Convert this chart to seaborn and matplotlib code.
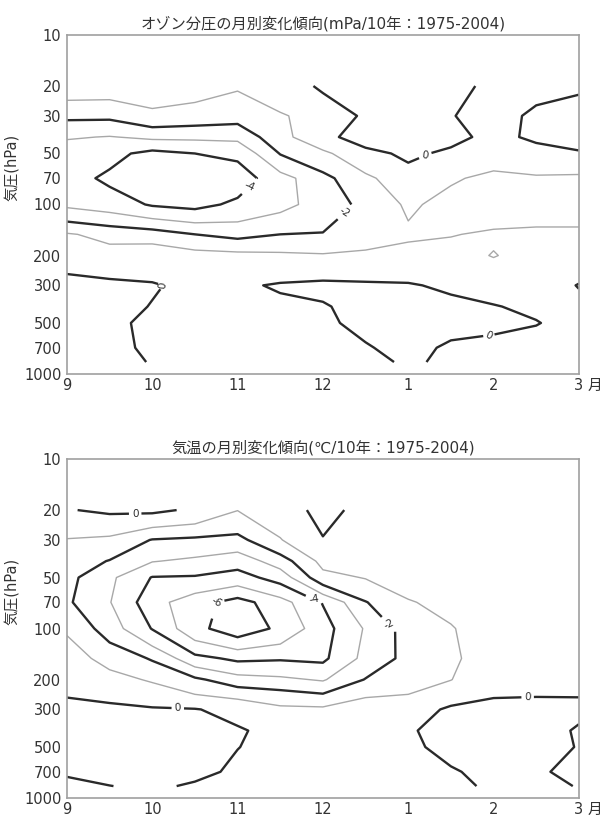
import numpy as np
import matplotlib
matplotlib.use("Agg")
import matplotlib.pyplot as plt
from matplotlib.ticker import FixedLocator, NullLocator
import seaborn as sns

# grid: half-month steps from September (9) to March (15), pressure levels in hPa
months = [9, 9.5, 10, 10.5, 11, 11.5, 12, 12.5, 13, 13.5, 14, 14.5, 15]
month_ticks = [9, 10, 11, 12, 13, 14, 15]
month_labels = ["9", "10", "11", "12", "1", "2", "3"]
pressure_levels = [20, 30, 40, 50, 70, 100, 150, 200, 250, 300, 400, 500, 700, 850]
pressure_ticks = [10, 20, 30, 50, 70, 100, 200, 300, 500, 700, 1000]

# ozone partial-pressure trend, mPa per decade (rows follow pressure_levels)
ozone_trend = [
    [-0.4, -0.45, -0.5, -0.6, -0.9, -0.7, 0.2, 0.5, 0.6, 0.4, -0.3, -0.3, -0.1],
    [-1.8, -1.8, -1.2, -1.4, -1.6, -1.05, -0.8, 0.2, 0.5, 0.05, -0.4, 0.2, 0.3],
    [-2.9, -3.05, -2.8, -2.8, -2.75, -1.3, -0.3, 0.5, 0.4, 0.3, -0.3, 0.2, 0.2],
    [-3.6, -3.7, -4.3, -4.0, -3.8, -1.95, -1.2, -0.3, 0.2, -0.2, -0.6, -0.4, -0.05],
    [-3.6, -4.2, -4.8, -4.8, -4.5, -3.4, -2.3, -1.2, -0.4, -0.9, -1.2, -1.1, -1.2],
    [-3.2, -3.5, -4.1, -4.3, -3.8, -3.3, -2.6, -1.7, -0.85, -1.3, -1.6, -1.5, -1.5],
    [-0.9, -1.3, -1.5, -2.0, -2.3, -2.0, -1.95, -1.5, -1.15, -1.05, -0.85, -0.8, -0.8],
    [-0.5, -0.6, -0.3, -0.6, -0.7, -0.8, -0.9, -0.8, -0.7, -0.6, -1.05, -0.6, -0.5],
    [-0.05, -0.2, -0.3, -0.3, -0.4, -0.4, -0.5, -0.5, -0.4, -0.4, -0.6, -0.5, -0.3],
    [0.3, 0.2, 0.1, -0.3, -0.15, 0.1, 0.3, 0.2, 0.1, -0.2, -0.4, -0.6, 0.05],
    [0.5, 0.4, -0.05, -0.4, -0.4, -0.2, -0.1, 0.4, 0.5, 0.3, 0.05, -0.2, -0.3],
    [0.5, 0.4, -0.4, -0.5, -0.5, -0.4, -0.2, 0.3, 0.6, 0.4, 0.3, 0.05, -0.4],
    [0.4, 0.3, -0.2, -0.4, -0.6, -0.5, -0.4, -0.1, 0.4, -0.2, -0.4, -0.5, -0.5],
    [0.3, 0.3, -0.05, -0.3, -0.5, -0.5, -0.5, -0.3, 0.15, -0.2, -0.4, -0.4, -0.5],
]

# temperature trend, degC per decade (rows follow pressure_levels)
temp_trend = [
    [-0.05, 0.15, 0.2, -0.15, -0.98, -0.5, 0.3, -0.3, -0.3, -0.3, -0.3, -0.3, -0.3],
    [-1.05, -1.2, -2.05, -2.2, -2.3, -1.05, -0.05, -0.5, -0.4, -0.3, -0.3, -0.3, -0.3],
    [-1.45, -2.05, -2.95, -3.2, -3.6, -2.5, -0.7, -0.75, -0.55, -0.4, -0.35, -0.35, -0.35],
    [-1.7, -2.8, -4.05, -4.1, -4.4, -3.6, -1.3, -0.95, -0.7, -0.5, -0.4, -0.4, -0.4],
    [-1.85, -2.95, -4.6, -5.6, -6.4, -5.4, -3.95, -2.05, -1.05, -0.8, -0.5, -0.5, -0.5],
    [-1.1, -2.5, -4.05, -5.7, -6.6, -5.8, -4.4, -2.9, -1.6, -1.05, -0.6, -0.6, -0.6],
    [-0.6, -1.3, -2.1, -3.7, -4.2, -4.1, -4.2, -2.7, -1.7, -1.1, -0.7, -0.6, -0.6],
    [-0.35, -0.7, -1.1, -1.8, -2.6, -2.8, -3.1, -1.95, -1.4, -1.02, -0.4, -0.3, -0.3],
    [-0.03, -0.2, -0.5, -0.9, -1.2, -1.5, -1.8, -1.05, -0.95, -0.5, -0.05, -0.02, -0.02],
    [0.25, 0.2, 0.1, 0.05, -0.3, -0.8, -0.8, -0.6, -0.6, 0.2, 0.3, 0.3, 0.2],
    [0.45, 0.5, 0.5, 0.4, 0.1, -0.3, -0.4, -0.3, -0.1, 0.35, 0.4, 0.4, -0.1],
    [0.45, 0.6, 0.6, 0.5, 0.02, -0.3, -0.4, -0.3, -0.2, 0.3, 0.4, 0.4, -0.05],
    [0.1, 0.4, 0.5, 0.3, -0.2, -0.4, -0.5, -0.4, -0.4, -0.1, 0.3, 0.15, -0.3],
    [-0.2, -0.02, 0.2, -0.15, -0.4, -0.5, -0.6, -0.5, -0.6, -0.3, 0.2, 0.3, -0.05],
]

odd_levels = [-5, -3, -1]
even_levels = [-6, -4, -2, 0]

ozone_title = "オゾン分圧の月別変化傾向(mPa/10年：1975-2004)"
temp_title = "気温の月別変化傾向(℃/10年：1975-2004)"
ylabel_text = "気圧(hPa)"

ozone_label_spots = [(11.15, 84), (12.25, 110), (13.2, 52), (10.28, 315), (13.9, 570)]
temp_label_spots = [(9.8, 22), (10.72, 66), (11.88, 86), (12.76, 102), (10.3, 292), (14.4, 256)]

sns.set_style("white")
plt.rcParams["font.family"] = ["DejaVu Sans", "Noto Sans CJK JP"]

BLACK = "#2a2a2a"
GRAY = "#a8a8a8"
SPINE = "#a0a0a0"
TEXT = "#333333"


def draw_panel(ax, values, title, label_spots):
    z = np.array(values)
    ax.contour(months, pressure_levels, z, levels=odd_levels,
               colors=GRAY, linewidths=1.0, linestyles="solid")
    cs = ax.contour(months, pressure_levels, z, levels=even_levels,
                    colors=BLACK, linewidths=1.7, linestyles="solid")
    ax.clabel(cs, fmt=lambda v: f"{v:.0f}", fontsize=7.5, inline=True,
              inline_spacing=3, manual=label_spots)

    ax.set_yscale("log")
    ax.set_ylim(1000, 10)
    ax.set_xlim(9, 15)
    ax.yaxis.set_major_locator(FixedLocator(pressure_ticks))
    ax.yaxis.set_minor_locator(NullLocator())
    ax.set_yticklabels([str(p) for p in pressure_ticks])
    ax.set_xticks(month_ticks)
    ax.set_xticklabels(month_labels)
    ax.xaxis.set_minor_locator(FixedLocator([m + 0.5 for m in month_ticks[:-1]]))

    ax.tick_params(axis="y", which="major", direction="out", length=3,
                   width=0.8, color=SPINE, labelsize=10.5, labelcolor=TEXT, pad=1)
    ax.tick_params(axis="x", which="major", length=0, labelsize=10.5,
                   labelcolor=TEXT, pad=3)
    ax.tick_params(axis="x", which="minor", direction="in", length=3,
                   width=0.8, color=SPINE)
    for s in ax.spines.values():
        s.set_color(SPINE)
        s.set_linewidth(1.2)

    ax.set_title(title, fontsize=11, color=TEXT, pad=5)
    ax.set_ylabel(ylabel_text, fontsize=10.5, color=TEXT)
    ax.yaxis.set_label_coords(-0.092, 0.61)
    ax.text(1.031, -0.011, "月", transform=ax.transAxes, ha="center",
            va="top", fontsize=10.5, color=TEXT)


fig = plt.figure(figsize=(6.03, 8.18), dpi=100)
ax_top = fig.add_axes([0.111, 0.5428, 0.849, 0.4144])
ax_bot = fig.add_axes([0.111, 0.0244, 0.849, 0.4144])

draw_panel(ax_top, ozone_trend, ozone_title, ozone_label_spots)
draw_panel(ax_bot, temp_trend, temp_title, temp_label_spots)

fig.savefig("out.png", dpi=100, facecolor="white")
